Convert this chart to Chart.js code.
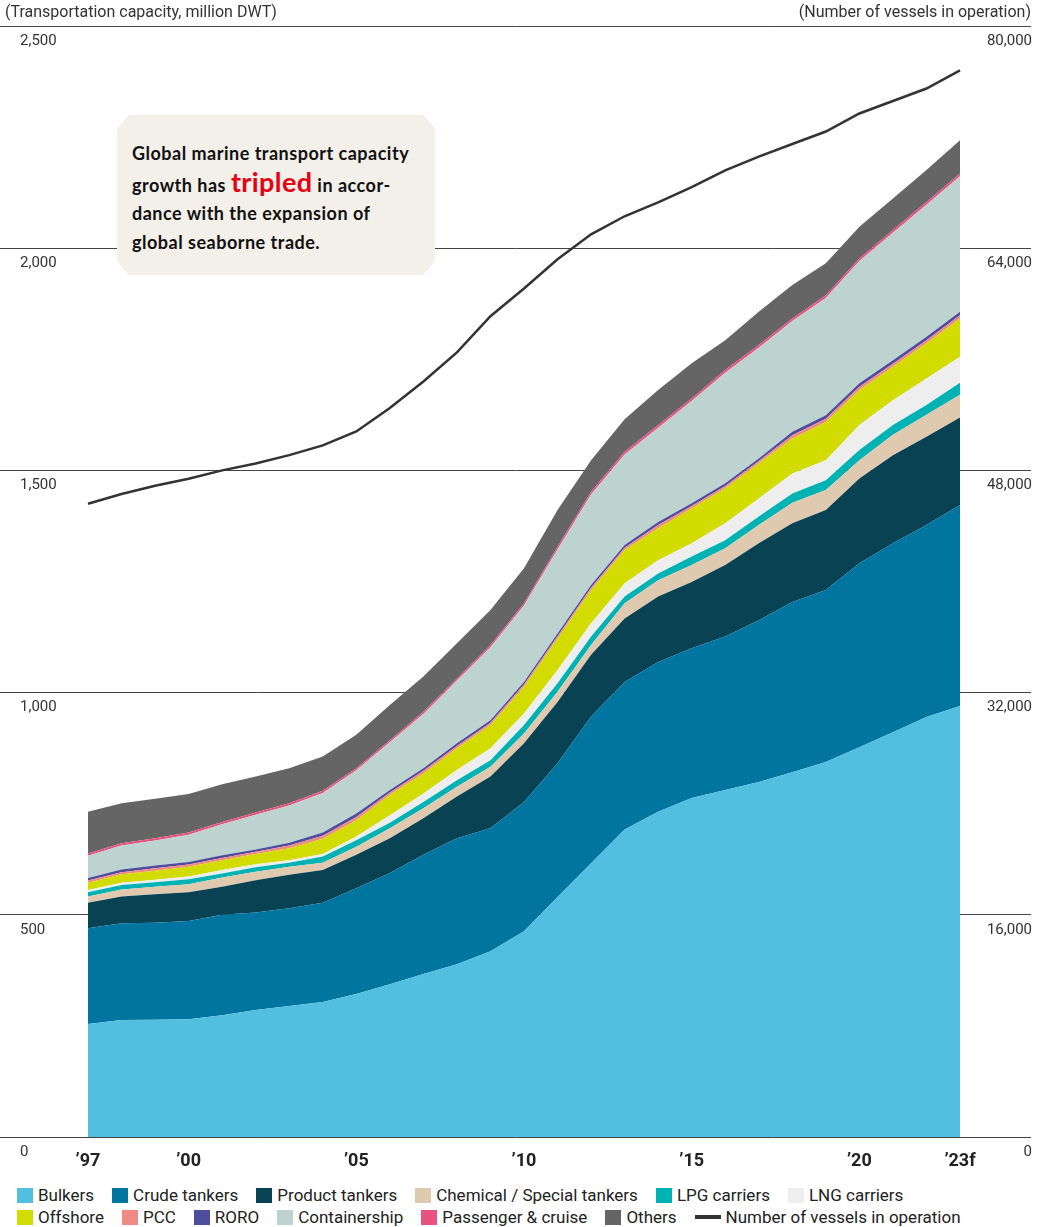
<!DOCTYPE html>
<html>
<head>
<meta charset="utf-8">
<script src="https://cdn.jsdelivr.net/npm/chart.js@4.4.1/dist/chart.umd.min.js"></script>
<style>
    html, body { margin: 0; padding: 0; background: #fff; }
    #wrap { position: relative; width: 1056px; height: 1227px; overflow: hidden; font-family: Roboto, sans-serif; color: #333; }
    #chartBox { position: absolute; left: 0; top: 0; width: 1056px; height: 1180px; }
    .axisTitle { position: absolute; top: 2px; font-size: 16px; color: #333; white-space: nowrap; }
    #titleLeft { left: 5px; }
    #titleRight { right: 25px; }
    #note {
        position: absolute; left: 117px; top: 115px; width: 318px; height: 160px;
        background: #f3efe9;
        clip-path: polygon(12px 0, 306px 0, 318px 14px, 318px 146px, 306px 160px, 12px 160px, 0 146px, 0 14px);
        box-sizing: border-box; padding: 24px 0 0 15px;
        font-family: Lato, sans-serif; font-weight: 700; font-size: 18px; letter-spacing: 0.5px; line-height: 28.7px; color: #111;
    }
    #note .hl { color: #e60012; font-size: 27px; letter-spacing: 0.4px; }
    #legend { position: absolute; left: 17px; top: 1184px; width: 1030px; font-size: 17px; color: #222; }
    .row { display: flex; height: 22px; align-items: center; }
    .item { display: flex; align-items: center; margin-right: 18px; white-space: nowrap; }
    .sw { width: 16px; height: 15px; margin-right: 5px; }
    .ln { width: 26px; height: 4px; margin-right: 5px; }
</style>
</head>
<body>
<div id="wrap">
    <div id="chartBox"><canvas id="shipChart"></canvas></div>
    <div class="axisTitle" id="titleLeft">(Transportation capacity, million DWT)</div>
    <div class="axisTitle" id="titleRight">(Number of vessels in operation)</div>
    <div id="note">Global marine transport capacity<br>growth has <span class="hl">tripled</span> in accor-<br>dance with the expansion of<br>global seaborne trade.</div>
    <div id="legend"></div>
</div>
<script>
    const years = [1997, 1998, 1999, 2000, 2001, 2002, 2003, 2004, 2005, 2006, 2007, 2008, 2009,
        2010, 2011, 2012, 2013, 2014, 2015, 2016, 2017, 2018, 2019, 2020, 2021, 2022, 2023];
    const tickYears = [1997, 2000, 2005, 2010, 2015, 2020, 2023];
    const tickLabels = ['\u201997', '\u201900', '\u201905', '\u201910', '\u201915', '\u201920', '\u201923f'];

    // million DWT
    const bulkers = [254, 263, 264, 265, 274, 286, 295, 304, 322, 344, 367, 389, 418, 463, 540, 616, 692, 732, 763, 781, 799, 821, 844, 877, 911, 945, 970];
    const crudeTankers = [216, 218, 218, 221, 226, 219, 220, 223, 238, 250, 268, 283, 277, 291, 301, 330, 332, 337, 337, 345, 364, 383, 387, 414, 425, 432, 452];
    const productTankers = [57, 60, 64, 65, 63, 73, 75, 74, 75, 78, 82, 94, 116, 132, 138, 139, 143, 147, 149, 161, 173, 177, 180, 191, 198, 199, 197];
    const chemicalTankers = [14, 16, 17, 18, 21, 19, 18, 16, 18, 23, 23, 22, 22, 22, 23, 22, 34, 37, 38, 38, 41, 46, 45, 41, 46, 49, 51];
    const lpgCarriers = [10, 10, 10, 11, 9, 10, 9, 14, 15, 12, 14, 15, 15, 19, 19, 19, 15, 15, 19, 18, 19, 21, 22, 23, 22, 22, 27];
    const lngCarriers = [5, 5, 6, 6, 8, 7, 6, 6, 8, 17, 19, 23, 27, 26, 30, 30, 30, 30, 30, 38, 41, 45, 45, 56, 56, 60, 59];
    const offshore = [16, 19, 20, 22, 22, 23, 27, 34, 37, 46, 45, 49, 52, 60, 71, 75, 75, 72, 79, 79, 79, 79, 86, 79, 75, 79, 86];
    const pcc = [5, 5, 6, 5, 5, 5, 6, 7, 7, 5, 6, 5, 5, 5, 5, 5, 5, 7, 5, 5, 5, 7, 7, 7, 7, 7, 7];
    const roro = [6, 6, 6, 6, 6, 5, 6, 7, 8, 6, 6, 6, 6, 6, 6, 6, 6, 7, 6, 6, 6, 8, 8, 8, 8, 8, 8];
    const containership = [50, 54, 56, 61, 70, 78, 84, 89, 97, 107, 122, 141, 164, 172, 189, 204, 204, 212, 230, 249, 249, 249, 264, 275, 287, 297, 305];
    const passengerCruise = [5, 5, 5, 5, 5, 5, 5, 5, 5, 5, 5, 5, 5, 5, 6, 6, 6, 6, 6, 6, 6, 6, 6, 6, 6, 6, 6];
    const others = [94, 90, 89, 87, 85, 81, 79, 77, 75, 79, 79, 79, 79, 79, 83, 71, 73, 79, 79, 67, 75, 75, 72, 71, 71, 72, 75];

    // number of vessels
    const vessels = [45600, 46300, 46900, 47400, 48000, 48500, 49100, 49800, 50800, 52500, 54400, 56500, 59100,
        61100, 63200, 65000, 66300, 67300, 68400, 69600, 70600, 71500, 72400, 73700, 74600, 75500, 76800];

    const layers = [
        { label: 'Bulkers', data: bulkers, color: '#52bfe0' },
        { label: 'Crude tankers', data: crudeTankers, color: '#0075a0' },
        { label: 'Product tankers', data: productTankers, color: '#084253' },
        { label: 'Chemical / Special tankers', data: chemicalTankers, color: '#dfcab0' },
        { label: 'LPG carriers', data: lpgCarriers, color: '#00b2b4' },
        { label: 'LNG carriers', data: lngCarriers, color: '#eeeeee' },
        { label: 'Offshore', data: offshore, color: '#d2dc00' },
        { label: 'PCC', data: pcc, color: '#f08a84' },
        { label: 'RORO', data: roro, color: '#4f4e9e' },
        { label: 'Containership', data: containership, color: '#bcd3d0' },
        { label: 'Passenger & cruise', data: passengerCruise, color: '#e8527e' },
        { label: 'Others', data: others, color: '#656565' }
    ];
    const lineLabel = 'Number of vessels in operation';
    const lineColor = '#333333';

    function points(values) {
        return years.map((y, i) => ({ x: y, y: values[i] }));
    }

    function buildLegend() {
        const rows = [layers.slice(0, 6), layers.slice(6)];
        const box = document.getElementById('legend');
        rows.forEach((row, r) => {
            const div = document.createElement('div');
            div.className = 'row';
            row.forEach(l => {
                const it = document.createElement('div');
                it.className = 'item';
                it.innerHTML = '<span class="sw" style="background:' + l.color + '"></span>' + l.label.replace('&', '&amp;');
                div.appendChild(it);
            });
            if (r === 1) {
                const it = document.createElement('div');
                it.className = 'item';
                it.innerHTML = '<span class="ln" style="background:' + lineColor + '"></span>' + lineLabel;
                div.appendChild(it);
            }
            box.appendChild(div);
        });
    }

    const datasets = [{
        label: lineLabel,
        data: points(vessels),
        yAxisID: 'y2',
        borderColor: lineColor,
        borderWidth: 2.5,
        pointRadius: 0,
        fill: false,
        tension: 0
    }];
    layers.forEach((l, i) => {
        datasets.push({
            label: l.label,
            data: points(l.data),
            yAxisID: 'y',
            backgroundColor: l.color,
            borderColor: 'rgba(0,0,0,0)',
            borderWidth: 0,
            pointRadius: 0,
            fill: i === 0 ? 'origin' : '-1',
            tension: 0
        });
    });

    const axisFont = { family: 'Roboto', size: 15 };

    // y axes sit inside the plot, so they take no room
    function flatAxis(scale) {
        scale.width = 0;
        scale.paddingTop = 0;
        scale.paddingBottom = 0;
    }

    new Chart(document.getElementById('shipChart'), {
        type: 'line',
        data: { datasets: datasets },
        options: {
            responsive: true,
            maintainAspectRatio: false,
            animation: false,
            layout: { padding: { top: 26, right: 25, left: 0, bottom: 0 } },
            plugins: { legend: { display: false }, tooltip: { enabled: false } },
            scales: {
                x: {
                    type: 'linear',
                    min: 1994.376,
                    max: 2025.117,
                    grid: { display: false },
                    border: { display: false },
                    afterBuildTicks: scale => { scale.ticks = tickYears.map(v => ({ value: v })); },
                    afterFit: scale => { scale.height = 43; },
                    ticks: {
                        padding: 6,
                        color: '#222',
                        font: { family: 'Roboto', size: 18, weight: 'bold' },
                        callback: v => tickLabels[tickYears.indexOf(v)]
                    }
                },
                y: {
                    stacked: true,
                    position: 'left',
                    min: 0,
                    max: 2500,
                    grid: { color: '#444', lineWidth: 1, drawTicks: false },
                    border: { display: false },
                    afterFit: flatAxis,
                    ticks: {
                        stepSize: 500,
                        mirror: true,
                        padding: 20,
                        labelOffset: 15,
                        color: '#333',
                        font: axisFont,
                        callback: v => v.toLocaleString('en-US')
                    }
                },
                y2: {
                    position: 'right',
                    min: 0,
                    max: 80000,
                    grid: { display: false, drawTicks: false },
                    border: { display: false },
                    afterFit: flatAxis,
                    ticks: {
                        stepSize: 16000,
                        mirror: true,
                        padding: 1,
                        labelOffset: 15,
                        color: '#333',
                        font: axisFont,
                        callback: v => v.toLocaleString('en-US')
                    }
                }
            }
        }
    });

    buildLegend();
</script>
</body>
</html>
